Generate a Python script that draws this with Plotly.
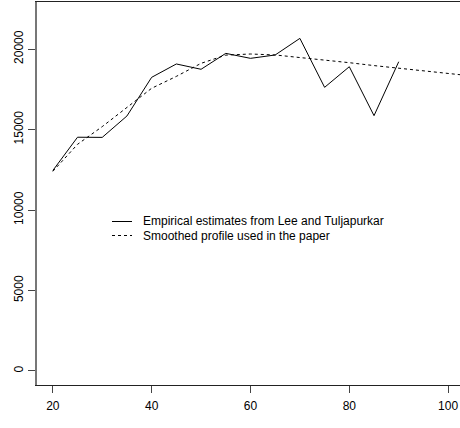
import plotly.graph_objects as go

# Data
ages_emp = [20, 25, 30, 35, 40, 45, 50, 55, 60, 65, 70, 75, 80, 85, 90]
empirical = [12450, 14520, 14510, 15840, 18240, 19070, 18740, 19730, 19420,
             19630, 20660, 17620, 18900, 15860, 19210]

ages_smooth = [20, 25, 30, 35, 40, 45, 50, 55, 60, 65, 70, 75, 80, 85, 90, 95, 100, 105]
smoothed = [12400, 14080, 15180, 16380, 17560, 18300, 19110, 19620, 19690,
            19630, 19480, 19320, 19150, 18970, 18800, 18650, 18490, 18320]

x_ticks = [20, 40, 60, 80, 100]
x_tick_labels = ["20", "40", "60", "80", "100"]
y_ticks = [0, 5000, 10000, 15000, 20000]
y_tick_labels = ["0", "5000", "10000", "15000", "20000"]

legend_labels = ["Empirical estimates from Lee and Tuljapurkar",
                 "Smoothed profile used in the paper"]
legend_dashes = ["solid", "3px,3px"]

FONT = "Liberation Sans, Arial, Helvetica, sans-serif"

W, H = 460, 428
ML, MR, MT, MB = 37, 0, 2, 43
PW, PH = W - ML - MR, H - MT - MB

fig = go.Figure()
fig.add_trace(go.Scatter(
    x=ages_emp, y=empirical, mode="lines", name=legend_labels[0],
    line=dict(color="black", width=1, dash=legend_dashes[0]),
))
fig.add_trace(go.Scatter(
    x=ages_smooth, y=smoothed, mode="lines", name=legend_labels[1],
    line=dict(color="black", width=1, dash=legend_dashes[1]),
))

# Manual legend (R-style compact legend)
def px_to_paper_x(px):
    return (px - ML) / PW

def px_to_paper_y(py):
    return (H - MB - py) / PH

legend_rows_y = [221.5, 235.5]
for label, dash, ry in zip(legend_labels, legend_dashes, legend_rows_y):
    fig.add_shape(type="line", xref="paper", yref="paper",
                  x0=px_to_paper_x(112), x1=px_to_paper_x(132),
                  y0=px_to_paper_y(ry), y1=px_to_paper_y(ry),
                  line=dict(color="black", width=1, dash=dash))
    fig.add_annotation(xref="paper", yref="paper",
                       x=px_to_paper_x(141), y=px_to_paper_y(ry),
                       xanchor="left", yanchor="middle", showarrow=False,
                       text=label, font=dict(family=FONT, size=12, color="black"))

fig.update_layout(
    width=W, height=H,
    margin=dict(l=ML, r=MR, t=MT, b=MB),
    paper_bgcolor="white", plot_bgcolor="white",
    font=dict(family=FONT, size=12, color="black"),
    showlegend=False,
    xaxis=dict(
        range=[16.8, 102.4], tickvals=x_ticks, ticktext=x_tick_labels,
        showgrid=False, zeroline=False,
        showline=True, linecolor="#222", linewidth=1, mirror=True,
        ticks="outside", ticklen=7, tickcolor="#444", tickwidth=1,
        ticklabelstandoff=3,
        tickfont=dict(family=FONT, size=12, color="black"),
    ),
    yaxis=dict(
        range=[-870, 22920], tickvals=y_ticks, ticktext=y_tick_labels,
        showgrid=False, zeroline=False,
        showline=True, linecolor="#777", linewidth=2,
        ticks="outside", ticklen=7, tickcolor="#444", tickwidth=1,
        tickangle=-90,
        tickfont=dict(family=FONT, size=12, color="black"),
    ),
)

fig.write_html("out.html")
